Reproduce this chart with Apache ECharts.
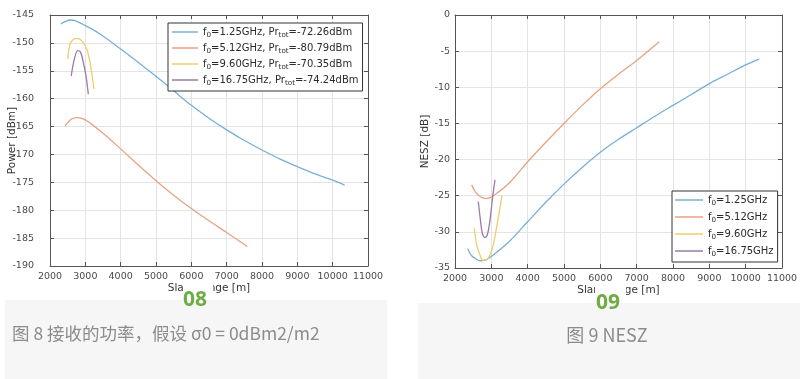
<!DOCTYPE html>
<html>
<head>
<meta charset="utf-8">
<script src="https://cdn.jsdelivr.net/npm/echarts@6/dist/echarts.min.js"></script>
<style>
html,body{margin:0;padding:0;background:#fff;}
#c{width:800px;height:379px;}
</style>
</head>
<body>
<div id="c"></div>
<script>
// ---------- data ----------
const xTicks = [2000, 3000, 4000, 5000, 6000, 7000, 8000, 9000, 10000, 11000];
const powerTicks = [-190, -185, -180, -175, -170, -165, -160, -155, -150, -145];
const neszTicks = [-35, -30, -25, -20, -15, -10, -5, 0];

const legendPower = [
  'f0=1.25GHz, Prtot=-72.26dBm',
  'f0=5.12GHz, Prtot=-80.79dBm',
  'f0=9.60GHz, Prtot=-70.35dBm',
  'f0=16.75GHz, Prtot=-74.24dBm'
];
const legendNesz = ['f0=1.25GHz', 'f0=5.12GHz', 'f0=9.60GHz', 'f0=16.75GHz'];

// Received power [dBm] vs slant range [m]
const pow125X = [2311, 2425, 2566, 2708, 3000, 3415, 4000, 4500, 5000, 5500, 6000, 6500, 7000, 7500, 8000, 8500, 9000, 9500, 10000, 10340];
const pow125Y = [-146.6, -146.2, -145.9, -146.0, -146.9, -148.4, -151.1, -153.5, -156.0, -158.6, -161.2, -163.5, -165.6, -167.5, -169.2, -170.8, -172.2, -173.5, -174.6, -175.5];
const pow512X = [2425, 2600, 2755, 3000, 3500, 4000, 4500, 5000, 5500, 6000, 6500, 7000, 7585];
const pow512Y = [-164.9, -163.7, -163.4, -163.8, -166.2, -169.0, -171.9, -174.7, -177.3, -179.7, -181.9, -184.0, -186.5];
const pow960X = [2501, 2566, 2660, 2755, 2896, 3038, 3132, 3245];
const pow960Y = [-152.9, -150.2, -149.4, -149.2, -149.6, -151.1, -153.5, -158.3];
const pow1675X = [2600, 2689, 2783, 2868, 2943, 3019, 3085];
const pow1675Y = [-155.9, -152.9, -151.4, -151.7, -153.5, -155.9, -159.2];

// NESZ [dB] vs slant range [m]
const nesz125X = [2349, 2459, 2597, 2688, 2826, 3000, 3500, 4000, 4500, 5000, 5500, 6000, 6500, 7000, 7500, 8000, 8500, 9000, 9500, 10000, 10370];
const nesz125Y = [-32.3, -33.3, -33.8, -34.0, -33.9, -33.4, -31.3, -28.6, -25.9, -23.4, -21.1, -19.0, -17.2, -15.6, -14.0, -12.5, -11.0, -9.5, -8.2, -6.9, -6.1];
const nesz512X = [2459, 2551, 2688, 2872, 3055, 3500, 4000, 4500, 5000, 5500, 6000, 6500, 7000, 7620];
const nesz512Y = [-23.5, -24.4, -25.1, -25.4, -25.0, -23.2, -20.3, -17.6, -15.0, -12.5, -10.2, -8.2, -6.3, -3.7];
const nesz960X = [2532, 2597, 2688, 2761, 2860, 2963, 3055, 3147, 3220, 3294];
const nesz960Y = [-29.5, -31.8, -33.2, -33.9, -33.9, -33.2, -31.8, -29.3, -27.2, -25.0];
const nesz1675X = [2642, 2688, 2752, 2826, 2890, 2963, 3037, 3101];
const nesz1675Y = [-25.8, -27.9, -30.2, -30.8, -30.4, -28.4, -25.1, -22.8];

const colors = ['#79afd6', '#e8a283', '#efcc6c', '#9a7aa6'];

// ---------- build ----------
function pairs(xs, ys) { return xs.map((x, i) => [x, ys[i]]); }
const FONT = 'DejaVu Sans';
const labelStyle = { color: '#4a4a4a', fontSize: 9.5, fontFamily: FONT, formatter: v => String(v) };

function xAx(grid, pos) {
  const primary = pos === 'bottom';
  return {
    type: 'value', gridIndex: grid, position: pos, min: 2000, max: 11000, interval: 1000,
    name: primary ? 'Slant range [m]' : '', nameLocation: 'middle', nameGap: 17, nameMoveOverlap: false,
    nameTextStyle: { color: '#333', fontSize: 10.5, fontFamily: FONT },
    axisLine: { show: true, onZero: false, lineStyle: { color: '#555', width: 1 } },
    axisTick: { show: true, inside: true, length: 4, lineStyle: { color: '#555' } },
    axisLabel: { show: primary, margin: 6, ...labelStyle },
    splitLine: { show: primary, lineStyle: { color: '#e4e4e4', width: 1 } }
  };
}
function yAx(grid, pos, min, max, name, gap, margin) {
  const primary = pos === 'left';
  return {
    type: 'value', gridIndex: grid, position: pos, min: min, max: max, interval: 5,
    name: primary ? name : '', nameLocation: 'middle', nameGap: gap, nameMoveOverlap: false,
    nameTextStyle: { color: '#333', fontSize: 10.5, fontFamily: FONT },
    axisLine: { show: true, onZero: false, lineStyle: { color: '#555', width: 1 } },
    axisTick: { show: true, inside: true, length: 4, lineStyle: { color: '#555' } },
    axisLabel: { show: primary, margin: margin, ...labelStyle },
    splitLine: { show: primary, lineStyle: { color: '#e4e4e4', width: 1 } }
  };
}
function line(name, xs, ys, ci, xi, yi) {
  return {
    type: 'line', name: name, xAxisIndex: xi, yAxisIndex: yi, data: pairs(xs, ys),
    showSymbol: false, symbol: 'none', smooth: 0.3,
    lineStyle: { color: colors[ci], width: 1.3 }, itemStyle: { color: colors[ci] },
    animation: false
  };
}
function legendFmt(n) {
  return n.replace('f0', 'f{s|0}').replace('Prtot', 'Pr{s|tot}');
}
const legendText = {
  color: '#2b2b2b', fontSize: 10, fontFamily: FONT, lineHeight: 14,
  rich: { s: { fontSize: 7.2, fontFamily: FONT, color: '#2b2b2b', verticalAlign: 'bottom', lineHeight: 9, padding: [5, 0, 0, 0] } }
};

const option = {
  animation: false,
  grid: [
    { left: 50, top: 15, width: 318, height: 251, outerBoundsMode: 'none' },
    { left: 455, top: 15, width: 327, height: 253, outerBoundsMode: 'none' }
  ],
  xAxis: [xAx(0, 'bottom'), xAx(0, 'top'), xAx(1, 'bottom'), xAx(1, 'top')],
  yAxis: [
    yAx(0, 'left', -190, -145, 'Power [dBm]', 32, 16),
    yAx(0, 'right', -190, -145, '', 0, 0),
    yAx(1, 'left', -35, 0, 'NESZ [dB]', 24, 5),
    yAx(1, 'right', -35, 0, '', 0, 0)
  ],
  legend: [
    {
      data: legendPower, left: 168, top: 23, orient: 'vertical', selectedMode: false,
      backgroundColor: '#fff', borderColor: '#333', borderWidth: 1, borderRadius: 0,
      padding: [2, 4, 4, 4], itemGap: 2, itemWidth: 26, itemHeight: 1.5, icon: 'rect',
      textStyle: legendText, formatter: legendFmt
    },
    {
      data: legendNesz, left: 672, top: 191, orient: 'vertical', selectedMode: false,
      backgroundColor: '#fff', borderColor: '#333', borderWidth: 1, borderRadius: 0,
      padding: [2, 4, 4, 3], itemGap: 3, itemWidth: 28, itemHeight: 1.5, icon: 'rect',
      textStyle: legendText, formatter: legendFmt
    }
  ],
  series: [
    line(legendPower[0], pow125X, pow125Y, 0, 0, 0),
    line(legendPower[1], pow512X, pow512Y, 1, 0, 0),
    line(legendPower[2], pow960X, pow960Y, 2, 0, 0),
    line(legendPower[3], pow1675X, pow1675Y, 3, 0, 0),
    line(legendNesz[0], nesz125X, nesz125Y, 0, 2, 2),
    line(legendNesz[1], nesz512X, nesz512Y, 1, 2, 2),
    line(legendNesz[2], nesz960X, nesz960Y, 2, 2, 2),
    line(legendNesz[3], nesz1675X, nesz1675Y, 3, 2, 2)
  ],
  graphic: [
    { type: 'rect', z: 100, shape: { x: 184, y: 282, width: 29, height: 18 }, style: { fill: '#fff' } },
    { type: 'rect', z: 100, shape: { x: 595, y: 282, width: 31, height: 21 }, style: { fill: '#fff' } },
    { type: 'rect', z: 101, shape: { x: 5, y: 300, width: 382, height: 79 }, style: { fill: '#f6f6f6' } },
    { type: 'rect', z: 101, shape: { x: 418, y: 303, width: 382, height: 76 }, style: { fill: '#f6f6f6' } },
    { type: 'text', z: 102, x: 195, y: 300, style: { text: '08', fill: '#70ac45', font: 'bold 21px "Noto Sans"', align: 'center', verticalAlign: 'middle' } },
    { type: 'text', z: 102, x: 608, y: 303, style: { text: '09', fill: '#70ac45', font: 'bold 21px "Noto Sans"', align: 'center', verticalAlign: 'middle' } },
    { type: 'text', z: 102, x: 12, y: 333, style: { text: '图 8 接收的功率，假设 σ0 = 0dBm2/m2', fill: '#8c8c8c', font: '17.5px "Noto Sans CJK SC"', align: 'left', verticalAlign: 'middle' } },
    { type: 'text', z: 102, x: 607, y: 335, style: { text: '图 9 NESZ', fill: '#8c8c8c', font: '18px "Noto Sans CJK SC"', align: 'center', verticalAlign: 'middle' } }
  ]
};

const chart = echarts.init(document.getElementById('c'), null, { renderer: 'canvas' });
chart.setOption(option);
</script>
</body>
</html>
